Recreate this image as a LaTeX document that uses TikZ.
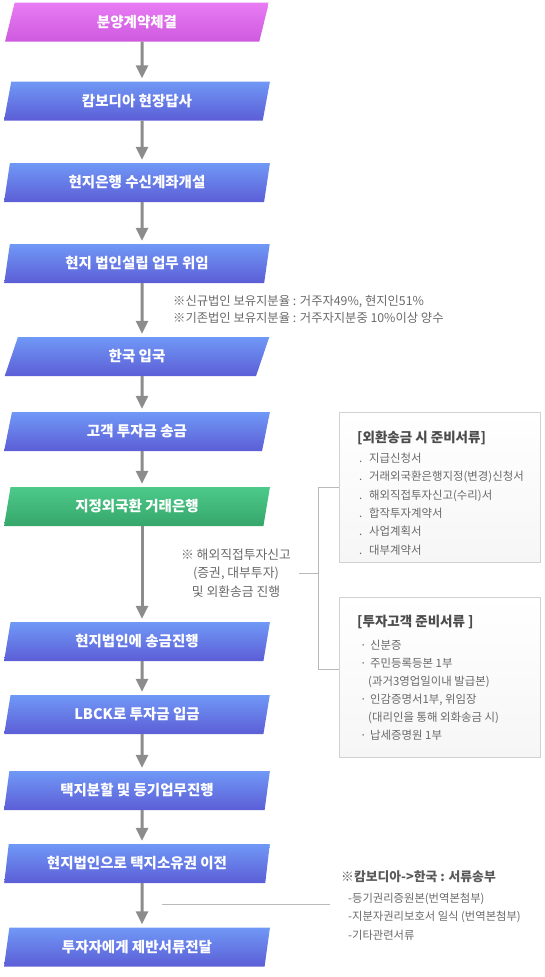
\documentclass[tikz,border=0pt]{standalone}
\usepackage{fontspec}
\setmainfont{Noto Sans CJK KR}
\usetikzlibrary{shapes.geometric,arrows.meta}
\definecolor{flowtop}{RGB}{112,152,246}
\definecolor{flowbot}{RGB}{92,94,214}
\definecolor{pinktop}{RGB}{232,124,244}
\definecolor{pinkbot}{RGB}{206,90,222}
\definecolor{greentop}{RGB}{76,202,138}
\definecolor{greenbot}{RGB}{54,166,106}
\definecolor{arrowgray}{RGB}{140,140,140}
\definecolor{notegray}{RGB}{105,105,105}
\definecolor{linegray}{RGB}{185,185,185}
\newcommand{\bul}[1]{\makebox[10pt][l]{#1}}

\begin{document}
\begin{tikzpicture}[x=1pt, y=-1pt,
  flow/.style={trapezium, trapezium left angle=77, trapezium right angle=103,
    trapezium stretches=true, minimum width=266pt, minimum height=39pt, inner sep=0pt,
    top color=flowtop, bottom color=flowbot, text=white,
    font=\fontsize{14.5}{17}\selectfont\bfseries},
  pinkflow/.style={flow, top color=pinktop, bottom color=pinkbot},
  greenflow/.style={flow, top color=greentop, bottom color=greenbot},
  flowarrow/.style={draw=arrowgray, line width=3pt, -{Triangle[width=12pt,length=13pt]}, shorten >=3pt},
  docbox/.style={draw=gray!35, top color=white, bottom color=gray!7, minimum width=201pt, inner sep=0pt},
  doctitle/.style={anchor=west, inner sep=0pt, text=black!70, font=\fontsize{13.5}{16}\selectfont\bfseries},
  doclist/.style={anchor=west, inner sep=0pt, align=left, text=notegray},
  note/.style={inner sep=0pt, text=notegray},
  bracket/.style={draw=linegray, line width=0.8pt}
]
\useasboundingbox (0,0) rectangle (544,977);

% flow
\node[pinkflow]  (b1)  at (137,22)    {분양계약체결};
\node[flow]      (b2)  at (137,101)   {캄보디아 현장답사};
\node[flow]      (b3)  at (137,182.5) {현지은행 수신계좌개설};
\node[flow]      (b4)  at (137,263.5) {현지 법인설립 업무 위임};
\node[flow]      (b5)  at (137,356.5) {한국 입국};
\node[flow]      (b6)  at (137,431.5) {고객 투자금 송금};
\node[greenflow] (b7)  at (137,506.5) {지정외국환 거래은행};
\node[flow]      (b8)  at (137,641.5) {현지법인에 송금진행};
\node[flow]      (b9)  at (137,714.5) {LBCK로 투자금 입금};
\node[flow]      (b10) at (137,790.5) {택지분할 및 등기업무진행};
\node[flow]      (b11) at (137,863.5) {현지법인으로 택지소유권 이전};
\node[flow]      (b12) at (137,947)   {투자자에게 제반서류전달};

\draw[flowarrow] ([xshift=5pt]b1.south)  -- ([xshift=5pt]b2.north);
\draw[flowarrow] ([xshift=5pt]b2.south)  -- ([xshift=5pt]b3.north);
\draw[flowarrow] ([xshift=5pt]b3.south)  -- ([xshift=5pt]b4.north);
\draw[flowarrow] ([xshift=5pt]b4.south)  -- ([xshift=5pt]b5.north);
\draw[flowarrow] ([xshift=5pt]b5.south)  -- ([xshift=5pt]b6.north);
\draw[flowarrow] ([xshift=5pt]b6.south)  -- ([xshift=5pt]b7.north);
\draw[flowarrow] ([xshift=5pt]b7.south)  -- ([xshift=5pt]b8.north);
\draw[flowarrow] ([xshift=5pt]b8.south)  -- ([xshift=5pt]b9.north);
\draw[flowarrow] ([xshift=5pt]b9.south)  -- ([xshift=5pt]b10.north);
\draw[flowarrow] ([xshift=5pt]b10.south) -- ([xshift=5pt]b11.north);
\draw[flowarrow] ([xshift=5pt]b11.south) -- ([xshift=5pt]b12.north);

% notes
\node[note, anchor=west, align=left, font=\fontsize{12.3}{17}\selectfont] (share) at (173,309.5)
  {※신규법인 보유지분율 : 거주자49\%, 현지인51\%\\※기존법인 보유지분율 : 거주자지분중 10\%이상 양수};
\node[note, align=center, font=\fontsize{12.8}{18.5}\selectfont] (mnote) at (236,573)
  {※ 해외직접투자신고\\(증권, 대부투자)\\및 외환송금 진행};

% documents
\node[docbox, minimum height=150pt] (docA) at (439.5,487) {};
\node[doctitle] (docAt) at (357,438) {[외환송금 시 준비서류]};
\node[doclist, font=\fontsize{11.4}{18.4}\selectfont] (docAl) at (359,504)
  {\bul{.}지급신청서\\\bul{.}거래외국환은행지정(변경)신청서\\\bul{.}해외직접투자신고(수리)서\\\bul{.}합작투자계약서\\\bul{.}사업계획서\\\bul{.}대부계약서};

\node[docbox, minimum height=160pt] (docB) at (439.5,677) {};
\node[doctitle] (docBt) at (357,622) {[투자고객 준비서류 ]};
\node[doclist, font=\fontsize{11.4}{18}\selectfont] (docBl) at (360,690)
  {\bul{·}신분증\\\bul{·}주민등록등본 1부\\\hspace*{8pt}(과거3영업일이내 발급본)\\\bul{·}인감증명서1부, 위임장\\\hspace*{8pt}(대리인을 통해 외화송금 시)\\\bul{·}납세증명원 1부};

\coordinate (docBin) at ([yshift=8pt]docB.west);
\draw[bracket] (docA.west) -- ++(-20,0) coordinate (fork) -- (fork |- docBin) -- (docBin);
\draw[bracket] ([xshift=8pt]mnote.east) -- (mnote.east -| fork);

% send back
\node[doctitle, text=black!65, font=\fontsize{12.8}{15}\selectfont\bfseries] (back) at (341,877) {※캄보디아->한국 : 서류송부};
\node[doclist, font=\fontsize{11.3}{18.5}\selectfont] (backl) at (348,916.5)
  {-등기권리증원본(번역본첨부)\\-지분자권리보호서 일식 (번역본첨부)\\-기타관련서류};
\coordinate (bl) at (162,904);
\coordinate (br) at (330,904);
\draw[bracket] (bl) -- (br);
\end{tikzpicture}
\end{document}
